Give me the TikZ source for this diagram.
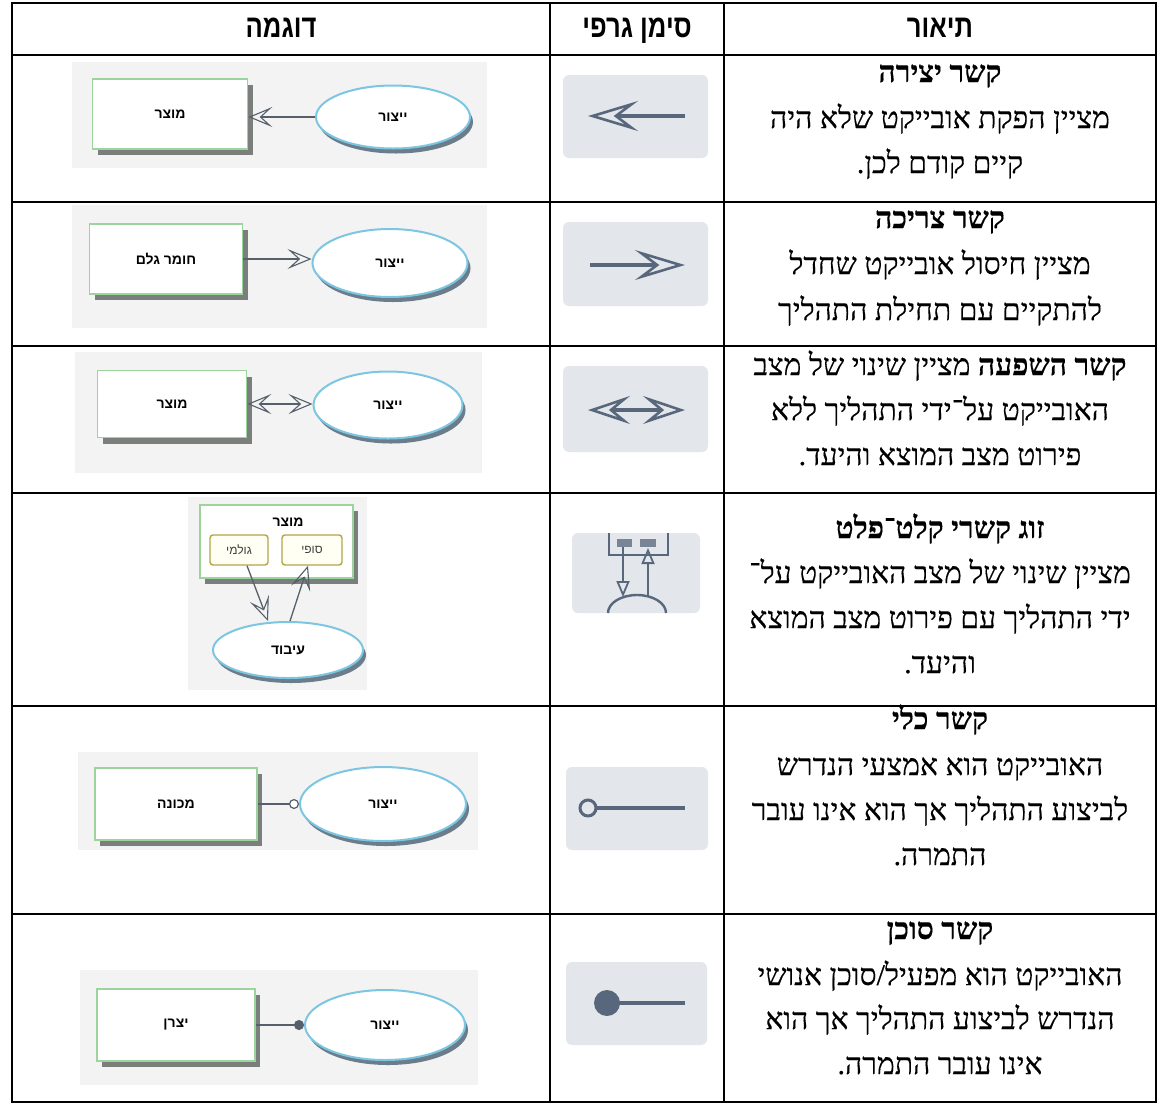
\documentclass[tikz,border=0pt]{standalone}
\usepackage{fontspec}
\usetikzlibrary{arrows.meta,shapes.geometric,shadows,calc}
\TeXXeTstate=1
\newfontfamily\hebserif[Script=Hebrew,FakeBold=0.35]{Liberation Serif}
\newfontfamily\hebsans[Script=Hebrew]{Liberation Sans}
\newfontfamily\hebhead[Script=Hebrew,FakeStretch=0.8]{Liberation Sans}

\definecolor{exbgc}{HTML}{F3F3F3}
\definecolor{objgreen}{HTML}{9DD49D}
\definecolor{objshade}{HTML}{7B7F7B}
\definecolor{proccyan}{HTML}{7CC6E2}
\definecolor{procshade}{HTML}{6B7C8A}
\definecolor{linkc}{HTML}{55606B}
\definecolor{statec}{HTML}{B6A448}
\definecolor{statefill}{HTML}{FFFFF4}
\definecolor{symbg}{HTML}{E3E7EC}
\definecolor{symc}{HTML}{58677B}

\begin{document}
\begin{tikzpicture}[x=1pt,y=-1pt,
  grid/.style={line width=2.6pt,black},
  hdr/.style={font=\hebhead\bfseries\fontsize{32}{36}\selectfont,anchor=base,inner sep=0pt},
  desc/.style={font=\hebserif\fontsize{30}{34}\selectfont,anchor=base,inner sep=0pt},
  lbl/.style={font=\hebsans\bfseries\fontsize{14}{16}\selectfont,text=black},
  obj/.style={rectangle,draw=objgreen,line width=1.6pt,fill=white,inner sep=0pt,
    font=\hebsans\bfseries\fontsize{14}{16}\selectfont,
    drop shadow={shadow xshift=5pt,shadow yshift=-6pt,fill=objshade,opacity=1}},
  proc/.style={ellipse,draw=proccyan,line width=2pt,fill=white,inner sep=0pt,
    font=\hebsans\bfseries\fontsize{14}{16}\selectfont,
    drop shadow={shadow xshift=3pt,shadow yshift=-5pt,fill=procshade,opacity=1}},
  statebox/.style={rectangle,rounded corners=3pt,draw=statec,line width=1.4pt,fill=statefill,
    inner sep=0pt,font=\hebsans\fontsize{12}{14}\selectfont,text=black!75},
  link/.style={draw=linkc,line width=1.3pt},
  exhead/.tip={Stealth[open,length=24pt,width=20pt,inset=11pt,line width=1.1pt]},
  symline/.style={draw=symc,line width=4pt},
  symhead/.tip={Stealth[open,length=50pt,width=30pt,inset=20pt,line width=2.6pt]},
  symheadsm/.tip={Stealth[open,length=42pt,width=28pt,inset=17pt,line width=2.6pt]},
  symthin/.style={draw=symc,line width=2.4pt},
  smallhead/.tip={Triangle[open,length=16pt,width=13pt,line width=1.8pt]}
]
\useasboundingbox (0,0) rectangle (1158,1104);
\fill[white] (0,0) rectangle (1158,1104);

% ---------- table rules ----------
\draw[grid] (12,3) rectangle (1156,1102);
\draw[grid] (550,3) -- (550,1102);
\draw[grid] (724,3) -- (724,1102);
\foreach \yy in {55,202,346,493,706,914}{\draw[grid] (12,\yy) -- (1156,\yy);}

% ---------- header ----------
\node[hdr] (hex) at (281,37) {\beginR דוגמה\endR};
\node[hdr] (hsy) at (637,37) {\beginR סימן גרפי\endR};
\node[hdr] (hds) at (940,37) {\beginR תיאור\endR};

% ---------- descriptions ----------
\node[desc] (d1a) at (940,82)  {\beginR\bfseries קשר יצירה\endR};
\node[desc] (d1b) at (940,128) {\beginR מציין הפקת אובייקט שלא היה\endR};
\node[desc] (d1c) at (940,173) {\beginR קיים קודם לכן.\endR};

\node[desc] (d2a) at (940,228) {\beginR\bfseries קשר צריכה\endR};
\node[desc] (d2b) at (940,274) {\beginR מציין חיסול אובייקט שחדל\endR};
\node[desc] (d2c) at (940,320) {\beginR להתקיים עם תחילת התהליך\endR};

\node[desc] (d3a) at (940,375) {\beginR{\bfseries קשר השפעה} מציין שינוי של מצב\endR};
\node[desc] (d3b) at (940,420) {\beginR האובייקט על־ידי התהליך ללא\endR};
\node[desc] (d3c) at (940,465) {\beginR פירוט מצב המוצא והיעד.\endR};

\node[desc] (d4a) at (940,538) {\beginR\bfseries זוג קשרי קלט־פלט\endR};
\node[desc] (d4b) at (940,583) {\beginR מציין שינוי של מצב האובייקט על־\endR};
\node[desc] (d4c) at (940,628) {\beginR ידי התהליך עם פירוט מצב המוצא\endR};
\node[desc] (d4d) at (940,673) {\beginR והיעד.\endR};

\node[desc] (d5a) at (940,729) {\beginR\bfseries קשר כלי\endR};
\node[desc] (d5b) at (940,775) {\beginR האובייקט הוא אמצעי הנדרש\endR};
\node[desc] (d5c) at (940,820) {\beginR לביצוע התהליך אך הוא אינו עובר\endR};
\node[desc] (d5d) at (940,865) {\beginR התמרה.\endR};

\node[desc] (d6a) at (940,939)  {\beginR\bfseries קשר סוכן\endR};
\node[desc] (d6b) at (940,985)  {\beginR האובייקט הוא מפעיל/סוכן אנושי\endR};
\node[desc] (d6c) at (940,1029) {\beginR הנדרש לביצוע התהליך אך הוא\endR};
\node[desc] (d6d) at (940,1074) {\beginR אינו עובר התמרה.\endR};

% ---------- graphic symbols ----------
% result link
\fill[symbg,rounded corners=6pt] (563,75) rectangle (708,158);
\coordinate (s1from) at (685,116);
\coordinate (s1to) at (588,116);
\draw[symline,-{symhead}] (s1from) -- (s1to);
% consumption link
\fill[symbg,rounded corners=6pt] (563,222) rectangle (708,306);
\coordinate (s2from) at (590,265);
\coordinate (s2to) at (685,265);
\draw[symline,-{symhead}] (s2from) -- (s2to);
% effect link
\fill[symbg,rounded corners=6pt] (563,366) rectangle (708,452);
\coordinate (s3a) at (588,410);
\coordinate (s3b) at (685,410);
\draw[symline,{symheadsm}-{symheadsm}] (s3a) -- (s3b);
% input-output pair
\fill[symbg,rounded corners=6pt] (572,533) rectangle (700,613);
\draw[symthin] (609,533) -- (609,555) -- (668,555) -- (668,533);
\fill[symc!80] (617,539) rectangle (632,547);
\fill[symc!80] (640,539) rectangle (656,547);
\coordinate (s4in) at (623,547);
\coordinate (s4proc) at (623,597);
\coordinate (s4out) at (648,597);
\coordinate (s4res) at (648,548);
\draw[symthin,-{smallhead}] (s4in) -- (s4proc);
\draw[symthin,-{smallhead}] (s4out) -- (s4res);
\draw[symthin] (608,613) arc[start angle=180,end angle=360,x radius=29,y radius=18];
% instrument link
\fill[symbg,rounded corners=6pt] (566,767) rectangle (708,850);
\coordinate (s5c) at (588,808);
\coordinate (s5e) at (685,808);
\draw[symline] ($(s5c)+(8,0)$) -- (s5e);
\draw[symc,line width=3pt] (s5c) circle[radius=8];
% agent link
\fill[symbg,rounded corners=6pt] (566,962) rectangle (707,1045);
\coordinate (s6c) at (607,1003);
\coordinate (s6e) at (685,1003);
\draw[symline] (s6c) -- (s6e);
\fill[symc] (s6c) circle[radius=13];

% ---------- examples ----------
% row 1
\fill[exbgc] (72,62) rectangle (487,168);
\node[obj,minimum width=155pt,minimum height=70pt] (r1) at (170,114) {\beginR מוצר\endR};
\node[proc,minimum width=154pt,minimum height=63pt] (e1) at (393,117) {\beginR ייצור\endR};
\draw[link,-{exhead}] (e1.west) -- (e1.west -| r1.east);

% row 2
\fill[exbgc] (72,205) rectangle (487,328);
\node[obj,minimum width=153pt,minimum height=70pt] (r2) at (166,259) {\beginR חומר גלם\endR};
\node[proc,minimum width=155pt,minimum height=68pt] (e2) at (390,263) {\beginR ייצור\endR};
\draw[link,-{exhead}] (r2.east) -- (r2.east -| e2.west);

% row 3
\fill[exbgc] (75,352) rectangle (482,473);
\node[obj,minimum width=149pt,minimum height=67pt] (r3) at (172,404) {\beginR מוצר\endR};
\node[proc,minimum width=149pt,minimum height=67pt] (e3) at (388,405) {\beginR ייצור\endR};
\draw[link,{exhead}-{exhead}] (r3.east) -- (r3.east -| e3.west);

% row 4
\fill[exbgc] (188,497) rectangle (367,690);
\node[obj,minimum width=153pt,minimum height=73pt] (r4) at (276.5,541.5) {};
\node[lbl] (r4l) at (288,522) {\beginR מוצר\endR};
\node[statebox,minimum width=58pt,minimum height=30pt] (st1) at (239,550) {\beginR גולמי\endR};
\node[statebox,minimum width=60pt,minimum height=30pt] (st2) at (312,550) {\beginR סופי\endR};
\node[proc,minimum width=150pt,minimum height=56pt] (e4) at (288,650) {\beginR עיבוד\endR};
\draw[link,-{exhead}] ([xshift=8pt]st1.south) -- ([xshift=-20pt]e4.north);
\draw[link,-{exhead}] ([xshift=2pt]e4.north) -- ([xshift=-4pt]st2.south);

% row 5
\fill[exbgc] (78,752) rectangle (478,850);
\node[obj,minimum width=162pt,minimum height=72pt] (r5) at (176,804) {\beginR מכונה\endR};
\node[proc,minimum width=166pt,minimum height=74pt] (e5) at (383,804) {\beginR ייצור\endR};
\draw[link,-{Circle[length=10pt,fill=white,line width=1.2pt]}] (r5.east) -- (e5.west);

% row 6
\fill[exbgc] (80,970) rectangle (478,1085);
\node[obj,minimum width=158pt,minimum height=72pt] (r6) at (176,1025) {\beginR יצרן\endR};
\node[proc,minimum width=160pt,minimum height=70pt] (e6) at (385,1025) {\beginR ייצור\endR};
\draw[link,-{Circle[length=10pt,fill=linkc]}] (r6.east) -- (e6.west);
\end{tikzpicture}
\end{document}
